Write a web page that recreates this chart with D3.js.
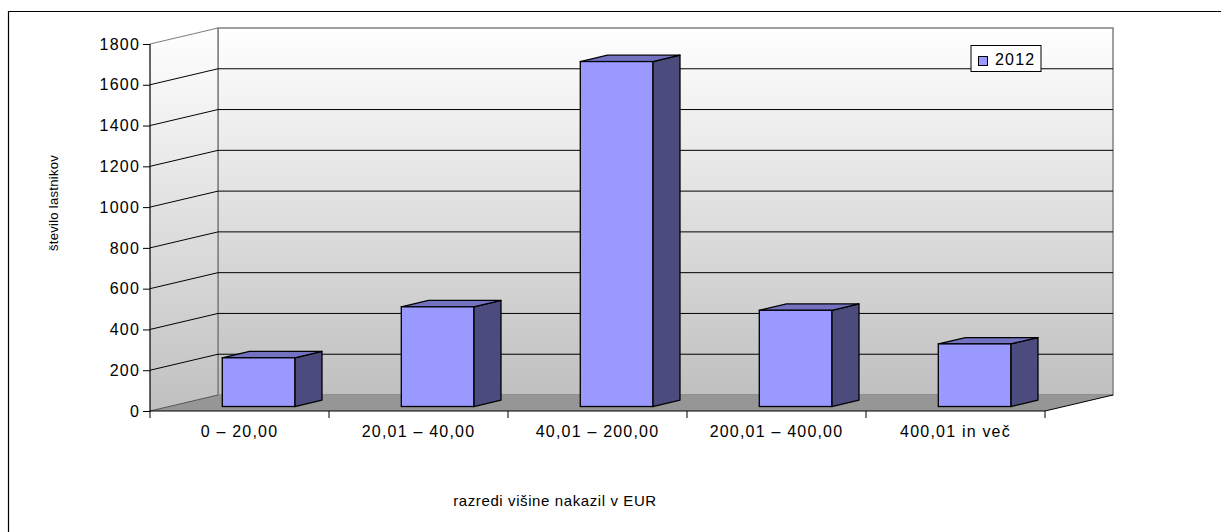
<!DOCTYPE html>
<html><head><meta charset="utf-8">
<script src="https://cdn.jsdelivr.net/npm/d3@7"></script>
<style>body{margin:0;background:#fff}svg{display:block}text{font-family:"Liberation Sans",Arial,sans-serif}</style>
</head><body>
<script>
const categories = ["0 – 20,00", "20,01 – 40,00", "40,01 – 200,00", "200,01 – 400,00", "400,01 in več"];
const values2012 = [239, 489, 1692, 472, 307];
const yTicks = [0, 200, 400, 600, 800, 1000, 1200, 1400, 1600, 1800];
const seriesName = "2012";
const yTitle = "število lastnikov";
const xTitle = "razredi višine nakazil v EUR";

const W = 1221, H = 532;
const svg = d3.select("body").append("svg").attr("width", W).attr("height", H);
const defs = svg.append("defs");
const g1 = defs.append("linearGradient").attr("id","wall").attr("x1",0).attr("y1",0).attr("x2",0).attr("y2",1);
g1.append("stop").attr("offset","0%").attr("stop-color","#ffffff");
g1.append("stop").attr("offset","100%").attr("stop-color","#c0c0c0");

// front plane geometry
const x0 = 150, x1 = 1045, yBase = 411, yTop = 44;
const DX = 68, DY = -16; // depth offset
const x = d3.scaleBand().domain(categories).range([x0, x1]);
const y = d3.scaleLinear().domain([0, 1800]).range([yBase, yTop]);

// outer border
svg.append("path").attr("d", `M8.5,${H+5} V11.5 H${W+5}`).attr("fill","none").attr("stroke","#000").attr("stroke-width",1.2);

// back wall
svg.append("rect").attr("x", x0+DX).attr("y", y(1800)+DY).attr("width", x1-x0).attr("height", y(0)-y(1800))
  .attr("fill","url(#wall)").attr("stroke","#808080").attr("stroke-width",1.5);
// side wall
svg.append("path").attr("d", `M${x0},${y(1800)} L${x0+DX},${y(1800)+DY} L${x0+DX},${y(0)+DY} L${x0},${y(0)} Z`)
  .attr("fill","url(#wall)").attr("stroke","none");
// floor
svg.append("path").attr("d", `M${x0},${y(0)} L${x1},${y(0)} L${x1+DX},${y(0)+DY} L${x0+DX},${y(0)+DY} Z`)
  .attr("fill","#969696").attr("stroke","none");
svg.append("line").attr("x1",x1).attr("y1",y(0)).attr("x2",x1+DX).attr("y2",y(0)+DY).attr("stroke","#000");
svg.append("line").attr("x1",x0+DX).attr("y1",y(0)+DY).attr("x2",x0+DX).attr("y2",y(1800)+DY).attr("stroke","#808080").attr("stroke-width",1.5);

// gridlines
yTicks.forEach(t => {
  if (t === 1800) {
    svg.append("line").attr("x1",x0).attr("y1",y(t)).attr("x2",x0+DX).attr("y2",y(t)+DY).attr("stroke","#808080").attr("stroke-width",1.2);
    return;
  }
  if (t > 0) {
    svg.append("path").attr("d",`M${x0},${y(t)} L${x0+DX},${y(t)+DY} L${x1+DX},${y(t)+DY}`).attr("fill","none").attr("stroke","#000").attr("stroke-width",1);
  } else {
    svg.append("line").attr("x1",x0).attr("y1",y(t)).attr("x2",x0+DX).attr("y2",y(t)+DY).attr("stroke","#555").attr("stroke-width",1);
  }
});

// bars
const fF = 0.28, bF = 0.68; // depth fractions
const bw = x.bandwidth()*0.405;
const bars = svg.append("g");
categories.forEach((c, i) => {
  const v = values2012[i];
  const cx = x(c) + x.bandwidth()/2;
  const fx = cx - bw/2 + DX*fF, fy = DY*fF;
  const bx = DX*(bF-fF), by = DY*(bF-fF);
  const L = fx, R = fx + bw, T = y(v) + fy, B = y(0) + fy;
  bars.append("path").attr("d",`M${R},${T} L${R+bx},${T+by} L${R+bx},${B+by} L${R},${B} Z`)
    .attr("fill","#4b4b7e").attr("stroke","#000").attr("stroke-width",1.3).attr("stroke-linejoin","round");
  bars.append("path").attr("d",`M${L},${T} L${L+bx},${T+by} L${R+bx},${T+by} L${R},${T} Z`)
    .attr("fill","#7272c0").attr("stroke","#000").attr("stroke-width",1.3).attr("stroke-linejoin","round");
  bars.append("rect").attr("x",L).attr("y",T).attr("width",bw).attr("height",B-T)
    .attr("fill","#9999ff").attr("stroke","#000").attr("stroke-width",1.3);
});

// y axis
const yAxis = d3.axisLeft(y).tickValues(yTicks).tickSize(7).tickPadding(3).tickFormat(d3.format("d"));
const ya = svg.append("g").attr("transform",`translate(${x0},0)`).call(yAxis);
ya.select(".domain").attr("stroke","#000").attr("stroke-width",1.2).attr("d",`M0,${y(1800)}V${y(0)}`);
ya.selectAll(".tick line").attr("stroke","#000");
ya.selectAll("text").attr("font-size",16).attr("letter-spacing","1.2px").attr("fill","#000").attr("font-family","Liberation Sans, Arial, sans-serif");

// x axis
const xa = svg.append("g").attr("transform",`translate(0,${yBase})`);
xa.append("line").attr("x1",x0).attr("x2",x1).attr("stroke","#000").attr("stroke-width",1.2);
d3.range(categories.length+1).forEach(i => {
  const xx = x0 + i*x.bandwidth();
  xa.append("line").attr("x1",xx).attr("x2",xx).attr("y1",0).attr("y2",7).attr("stroke","#000");
});
xa.selectAll("text.cat").data(categories).enter().append("text").attr("class","cat")
  .attr("x", d => x(d)+x.bandwidth()/2).attr("y", 26).attr("text-anchor","middle")
  .attr("font-size",16).attr("letter-spacing","1.2px").text(d => d);

// titles
svg.append("text").attr("transform","translate(58,203) rotate(-90)").attr("text-anchor","middle")
  .attr("font-size",13).attr("letter-spacing","0.3px").text(yTitle);
svg.append("text").attr("x",555).attr("y",506).attr("text-anchor","middle")
  .attr("font-size",15).attr("letter-spacing","0.6px").text(xTitle);

// legend
const lg = svg.append("g");
lg.append("rect").attr("x",971).attr("y",45.5).attr("width",70).attr("height",26).attr("fill","#fff").attr("stroke","#000").attr("stroke-width",1);
lg.append("rect").attr("x",978.5).attr("y",56.5).attr("width",9).attr("height",9).attr("fill","#9999ff").attr("stroke","#000");
lg.append("text").attr("x",995).attr("y",65).attr("font-size",16).attr("letter-spacing","1.2px").text(seriesName);
</script>
</body></html>
